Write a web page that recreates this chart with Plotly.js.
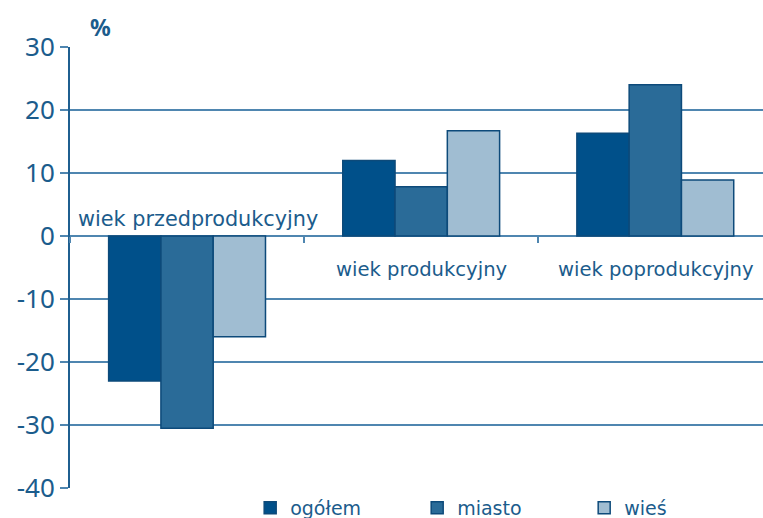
<!DOCTYPE html>
<html>
<head>
<meta charset="utf-8">
<script src="https://cdn.plot.ly/plotly-3.0.1.min.js"></script>
<style>
  body { margin: 0; background: #fff; }
  #chart { width: 763px; height: 518px; }
</style>
</head>
<body>
<div id="chart"></div>
<script>
// wiek groups and series values (%)
var groups = ['wiek przedprodukcyjny', 'wiek produkcyjny', 'wiek poprodukcyjny'];
var seriesNames = ['ogółem', 'miasto', 'wieś'];
var ogolem = [-23, 12, 16.3];
var miasto = [-30.5, 7.8, 24];
var wies = [-16, 16.7, 8.9];
var yTicks = [-40, -30, -20, -10, 0, 10, 20, 30];

var colors = ['#00508a', '#2a6b98', '#a0bdd2'];
var textBlue = '#1b5c8c';
var gridBlue = '#4f86b0';

var values = [ogolem, miasto, wies];
var data = [];
for (var i = 0; i < seriesNames.length; i++) {
  data.push({
    type: 'bar',
    x: groups,
    y: values[i],
    name: seriesNames[i],
    marker: {
      color: colors[i],
      line: { color: '#0d4a7a', width: 1.5 }
    },
    hoverinfo: 'y+name'
  });
}

// category labels sit next to the zero line, not on the axis
var annotations = [];
for (var j = 0; j < groups.length; j++) {
  annotations.push({
    x: groups[j],
    y: j == 0 ? 2.7 : -5.3,
    xref: 'x', yref: 'y',
    text: groups[j],
    showarrow: false,
    xshift: j == 0 ? 11 : 1,
    font: { size: j == 0 ? 20.8 : 19.6, family: 'DejaVu Sans, sans-serif', color: textBlue }
  });
}
annotations.push({
  x: 0.044, y: 1.045, xref: 'paper', yref: 'paper',
  xanchor: 'center', yanchor: 'middle',
  text: '<b>%</b>', showarrow: false,
  font: { size: 23, color: textBlue }
});

var layout = {
  width: 763,
  height: 518,
  margin: { l: 70, r: 0, t: 47, b: 30, autoexpand: false },
  paper_bgcolor: '#fff',
  plot_bgcolor: '#fff',
  font: { family: 'Noto Sans, Open Sans, sans-serif', color: textBlue },
  barmode: 'group',
  bargap: 0.33,
  bargroupgap: 0,
  showlegend: true,
  legend: {
    orientation: 'h',
    x: 0.26, xanchor: 'left',
    y: -0.045, yanchor: 'middle',
    font: { size: 19, family: 'DejaVu Sans, sans-serif', color: textBlue },
    entrywidth: 122, entrywidthmode: 'pixels',
    itemclick: false
  },
  xaxis: {
    anchor: 'free',
    position: 40 / 70,
    showticklabels: false,
    showline: false,
    showgrid: false,
    zeroline: false,
    ticks: 'outside',
    tickson: 'boundaries',
    ticklen: 6,
    tickcolor: gridBlue,
    tickwidth: 1.5,
    range: [-0.5, 2.46]
  },
  yaxis: {
    range: [-40, 30],
    tickvals: yTicks,
    ticktext: yTicks.map(String),
    showline: true,
    linecolor: '#1f5f90',
    linewidth: 2,
    showgrid: true,
    gridcolor: gridBlue,
    gridwidth: 1.5,
    zeroline: false,
    ticks: 'outside',
    ticklen: 8,
    tickcolor: gridBlue,
    tickwidth: 1.5,
    tickfont: { size: 26, color: textBlue }
  },
  annotations: annotations
};

Plotly.newPlot('chart', data, layout, { displayModeBar: false, staticPlot: true });
</script>
</body>
</html>
